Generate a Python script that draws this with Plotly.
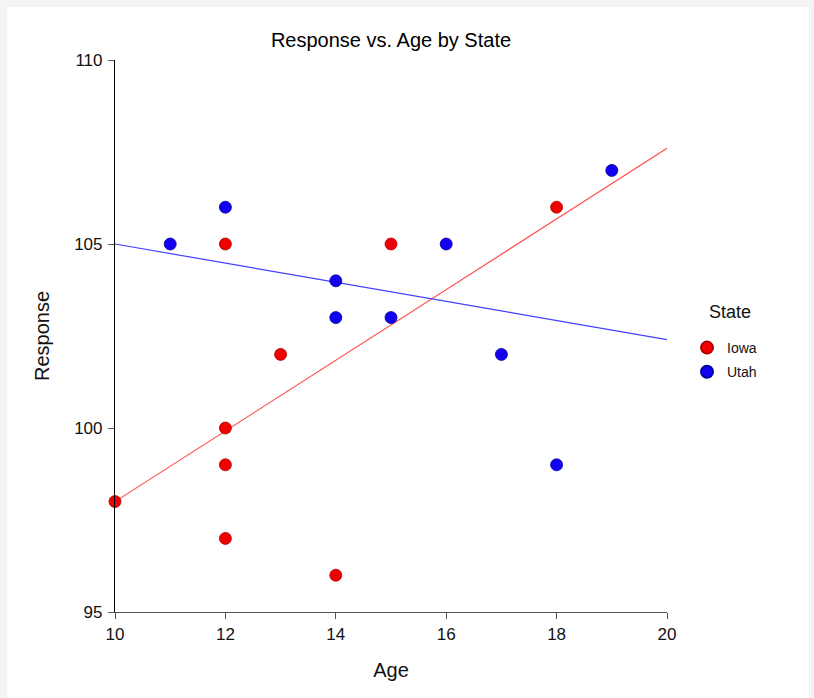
import plotly.graph_objects as go

# Data
iowa_age = [10, 12, 12, 12, 12, 13, 14, 15, 18]
iowa_resp = [98, 105, 100, 99, 97, 102, 96, 105, 106]
utah_age = [11, 12, 14, 14, 15, 16, 17, 18, 19]
utah_resp = [105, 106, 104, 103, 103, 105, 102, 99, 107]

# Fitted lines
fit_x = [10, 20]
iowa_fit = [98.0, 107.6]
utah_fit = [105.0, 102.4]

x_ticks = [10, 12, 14, 16, 18, 20]
y_ticks = [95, 100, 105, 110]

RED = "#f00000"
BLUE = "#1400f0"
FONT = "Liberation Sans, Arial, sans-serif"

fig = go.Figure()
fig.add_trace(go.Scatter(x=fit_x, y=iowa_fit, mode="lines",
                         line=dict(color="#ff5050", width=1.2),
                         showlegend=False, hoverinfo="skip"))
fig.add_trace(go.Scatter(x=fit_x, y=utah_fit, mode="lines",
                         line=dict(color="#4040ff", width=1.2),
                         showlegend=False, hoverinfo="skip"))
fig.add_trace(go.Scatter(x=iowa_age, y=iowa_resp, mode="markers", name="Iowa",
                         legendgroup="iowa",
                         marker=dict(color=RED, size=12,
                                     line=dict(color="#b00000", width=0.8)),
                         cliponaxis=False))
fig.add_trace(go.Scatter(x=utah_age, y=utah_resp, mode="markers", name="Utah",
                         legendgroup="utah",
                         marker=dict(color=BLUE, size=12,
                                     line=dict(color="#0000a0", width=0.8)),
                         cliponaxis=False))

# light gray frame: white panel on gray paper
fig.add_shape(type="rect", xref="paper", yref="paper",
              x0=(7 - 115) / 552, x1=(809 - 115) / 552,
              y0=-0.3, y1=(612 - 7) / 552,
              fillcolor="white", line=dict(width=0), layer="below")

# legend title as annotation
fig.add_annotation(text="State", xref="paper", yref="paper",
                   x=(730 - 115) / 552, y=(612 - 312) / 552,
                   xanchor="center", yanchor="middle", showarrow=False,
                   font=dict(size=18, color="#111"))

fig.update_layout(
    width=814, height=698,
    paper_bgcolor="#f4f4f4", plot_bgcolor="white",
    margin=dict(l=115, r=147, t=60, b=86),
    font=dict(family=FONT, color="#111", size=17),
    title=dict(text="Response vs. Age by State", x=391 / 814, xanchor="center",
               y=1 - 40 / 698, yanchor="middle",
               font=dict(size=20, color="#000")),
    xaxis=dict(range=[10, 20], tickvals=x_ticks, ticktext=[str(v) for v in x_ticks],
               showgrid=False, zeroline=False, showline=True,
               linecolor="#555", linewidth=1.2, ticks="outside", ticklen=6,
               tickcolor="#555", tickfont=dict(size=17),
               title=dict(text="Age", font=dict(size=20), standoff=20)),
    yaxis=dict(range=[95, 110], tickvals=y_ticks, ticktext=[str(v) for v in y_ticks],
               showgrid=False, zeroline=False, showline=True,
               linecolor="#000", linewidth=1.2, ticks="outside", ticklen=6,
               tickcolor="#555", tickfont=dict(size=17), ticklabelstandoff=2,
               title=dict(text="Response", font=dict(size=20), standoff=19)),
    legend=dict(x=(687 - 115) / 552, y=(612 - 332) / 552, xanchor="left", yanchor="top",
                font=dict(size=14), bgcolor="rgba(0,0,0,0)",
                itemsizing="constant", tracegroupgap=3, traceorder="grouped"),
    showlegend=True,
)

fig.write_html("out.html", config={"displayModeBar": False},
               post_script="document.body.style.margin='0';document.body.style.background='#f4f4f4';")
